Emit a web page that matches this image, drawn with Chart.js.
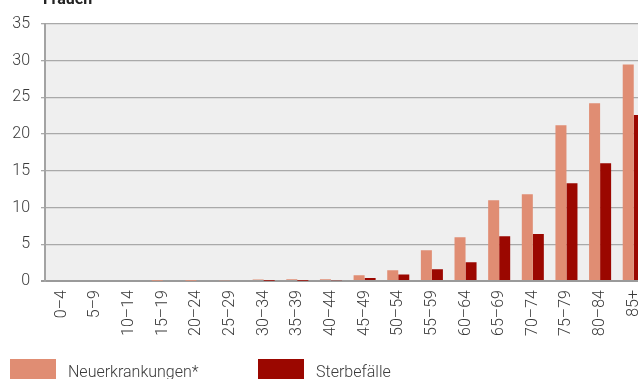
<!DOCTYPE html>
<html>
<head>
<meta charset="utf-8">
<script src="https://cdn.jsdelivr.net/npm/chart.js@4/dist/chart.umd.min.js"></script>
<style>
  html, body { margin: 0; padding: 0; background: #ffffff; overflow: hidden; width: 638px; height: 379px; }
  #wrap { position: absolute; left: 0; top: 0; width: 662px; height: 379px; }
  canvas { display: block; }
</style>
</head>
<body>
<div id="wrap"><canvas id="c" width="662" height="379"></canvas></div>
<script>
// Altersgruppen
const categories = ['0–4','5–9','10–14','15–19','20–24','25–29','30–34','35–39','40–44',
  '45–49','50–54','55–59','60–64','65–69','70–74','75–79','80–84','85+'];
// Neuerkrankungen je Altersgruppe
const neuerkrankungen = [0, 0, 0, 0.02, 0.03, 0.1, 0.2, 0.25, 0.25, 0.8, 1.45, 4.2, 5.95, 11.0, 11.8, 21.2, 24.2, 29.5];
// Sterbefälle je Altersgruppe
const sterbefaelle = [0, 0, 0, 0, 0, 0, 0.02, 0.05, 0.1, 0.4, 0.9, 1.6, 2.55, 6.1, 6.4, 13.3, 16.05, 22.6];
// Beschriftungen
const titleText = 'Frauen';
const seriesNames = ['Neuerkrankungen*', 'Sterbefälle'];
const yTicks = { min: 0, max: 35, step: 5 };

const colors = ['#e08d73', '#9b0700'];
const fontFamily = 'Roboto, "Noto Sans", sans-serif';
const textColor = '#3a3a3a';

// Hintergrund der Zeichenfläche
const plotBackground = {
  id: 'plotBackground',
  beforeDraw(chart) {
    const { ctx, chartArea: a } = chart;
    ctx.save();
    ctx.fillStyle = '#efefef';
    ctx.fillRect(a.left, a.top, a.right - a.left, a.bottom - a.top);
    ctx.restore();
  }
};

// Überschrift und Legende
const titleAndLegend = {
  id: 'titleAndLegend',
  afterDraw(chart) {
    const { ctx, chartArea: a } = chart;
    ctx.save();
    ctx.fillStyle = '#222';
    ctx.font = 'bold 16px ' + fontFamily;
    ctx.textBaseline = 'alphabetic';
    ctx.textAlign = 'left';
    ctx.fillText(titleText, a.left - 2, 4);

    const items = [{ x: 10 }, { x: 258 }];
    ctx.font = '300 16px ' + fontFamily;
    chart.data.datasets.forEach((ds, i) => {
      ctx.fillStyle = ds.backgroundColor;
      ctx.fillRect(items[i].x, 359, 46, 22);
      ctx.fillStyle = textColor;
      ctx.fillText(ds.label, items[i].x + 58, 377);
    });
    ctx.restore();
  }
};

new Chart(document.getElementById('c'), {
  type: 'bar',
  data: {
    labels: categories,
    datasets: [
      { label: seriesNames[0], data: neuerkrankungen, backgroundColor: colors[0],
        categoryPercentage: 0.655, barPercentage: 1.0 },
      { label: seriesNames[1], data: sterbefaelle, backgroundColor: colors[1],
        categoryPercentage: 0.655, barPercentage: 1.0 }
    ]
  },
  options: {
    responsive: false,
    animation: false,
    devicePixelRatio: 1,
    layout: { padding: { left: 0, right: 2, top: 24, bottom: 0 } },
    plugins: {
      legend: { display: false },
      title: { display: false },
      tooltip: { enabled: false }
    },
    scales: {
      x: {
        grid: { display: false, drawTicks: false },
        border: { display: true, color: '#9a9a9a', width: 2 },
        ticks: {
          autoSkip: false, minRotation: 90, maxRotation: 90, padding: 9,
          color: textColor, font: { family: fontFamily, size: 16, weight: '300' }
        },
        afterFit(scale) { scale.height = 98; }
      },
      y: {
        min: yTicks.min, max: yTicks.max,
        grid: {
          color: (c) => c.tick && c.tick.value === 0 ? '#9a9a9a' : '#a9a9a9',
          lineWidth: (c) => c.tick && c.tick.value === 0 ? 2 : 1.3,
          tickLength: 4, drawTicks: true
        },
        border: { display: true, color: '#a3a3a3', width: 2 },
        ticks: {
          stepSize: yTicks.step, padding: 11,
          color: textColor, font: { family: fontFamily, size: 16, weight: '300' }
        },
        afterFit(scale) { scale.width = 45; }
      }
    }
  },
  plugins: [plotBackground, titleAndLegend]
});
</script>
</body>
</html>
